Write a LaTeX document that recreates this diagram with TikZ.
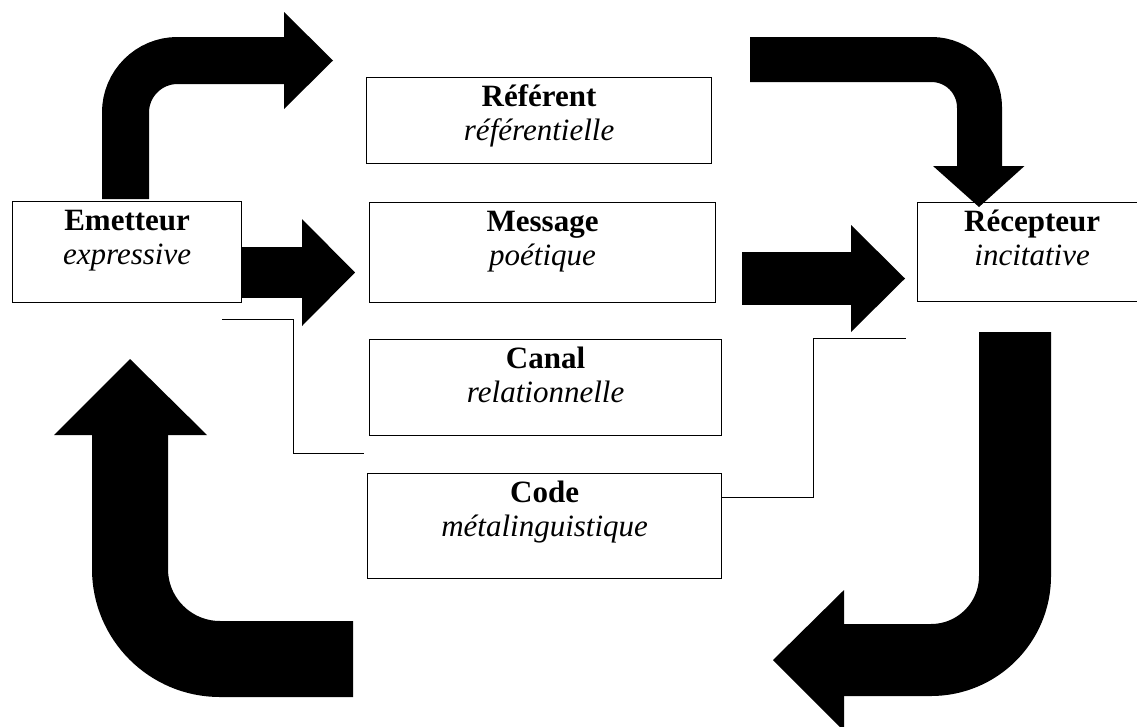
\documentclass[tikz,border=0pt]{standalone}
\usepackage{fontspec}
\setmainfont{Liberation Serif}
\begin{document}
\begin{tikzpicture}[x=1pt,y=-1pt,
  box/.style={draw, line width=1.2pt, fill=white, inner sep=0pt, anchor=north west},
  ttl/.style={font=\fontsize{31}{34}\selectfont\bfseries, anchor=base, inner sep=0pt},
  sub/.style={font=\fontsize{31}{34}\selectfont\itshape, anchor=base, inner sep=0pt},
  conn/.style={draw, line width=0.9pt},
  bigshaft/.style={draw=black, line cap=butt},
  bighead/.style={fill=black}
]
\useasboundingbox (0,0) rectangle (1137,726);
\clip (0,0) rectangle (1137,726);
\fill[white] (0,0) rectangle (1137,726);

% boxes
\node[box, minimum width=229pt, minimum height=101pt] (em) at (12,201) {};
\node[box, minimum width=345pt, minimum height=86pt] (ref) at (366,77) {};
\node[box, minimum width=346pt, minimum height=100pt] (msg) at (369,202) {};
\node[box, minimum width=352pt, minimum height=96pt] (can) at (369,339) {};
\node[box, minimum width=354pt, minimum height=105pt] (cod) at (367,473) {};
\node[box, minimum width=229pt, minimum height=99pt] (rec) at (917,202) {};

% texts
\foreach \b/\t/\s in {em/Emetteur/expressive, ref/Référent/référentielle, msg/Message/poétique, can/Canal/relationnelle, cod/Code/métalinguistique, rec/Récepteur/incitative}{
  \node[ttl] (\b T) at ([yshift=-29.5pt]\b.north) {\t};
  \node[sub] (\b S) at ([yshift=-63.5pt]\b.north) {\s};
}

% thin connectors
\coordinate (l1a) at (222,319);
\coordinate (l1b) at (293,319);
\coordinate (l1c) at (293,453);
\coordinate (l1d) at (364,453);
\draw[conn] (l1a) -- (l1b) -- (l1c) -- (l1d);
\coordinate (l2a) at (721,497);
\coordinate (l2b) at (813,497);
\coordinate (l2c) at (813,338);
\coordinate (l2d) at (906,338);
\draw[conn] (cod.east |- l2a) -- (l2b) -- (l2c) -- (l2d);

% big arrow: Emetteur up and right
\coordinate (a1) at (125.5,199);
\coordinate (a2) at (125.5,60.5);
\coordinate (a3) at (285,60.5);
\draw[bigshaft, line width=47pt, rounded corners=52pt] (a1) -- (a2) -- (a3);
\fill[bighead] (284,12) -- (333,60.5) -- (284,109) -- cycle;

% big arrow: Emetteur -> Message
\coordinate (b1) at (em.east |- 0,272.5);
\coordinate (b2) at (303,272.5);
\draw[bigshaft, line width=51pt] (b1) -- (b2);
\fill[bighead] (302,219) -- (355,272.5) -- (302,326) -- cycle;

% big arrow: Message -> Recepteur
\coordinate (c1) at (742,278.5);
\coordinate (c2) at (852,278.5);
\draw[bigshaft, line width=53pt] (c1) -- (c2);
\fill[bighead] (851,225) -- (905,278.5) -- (851,332) -- cycle;

% big arrow: top right, down to Recepteur
\coordinate (d1) at (750,59.5);
\coordinate (d2) at (979.5,59.5);
\coordinate (d3) at (979.5,167);
\draw[bigshaft, line width=45pt, rounded corners=48pt] (d1) -- (d2) -- (d3);
\fill[bighead] (933,166) -- (1024.5,166) -- (979,207) -- cycle;

% big arrow: bottom right, down and left
\coordinate (e1) at (1015,332);
\coordinate (e2) at (1015,660);
\coordinate (e3) at (843,660);
\draw[bigshaft, line width=72pt, rounded corners=84pt] (e1) -- (e2) -- (e3);
\fill[bighead] (844,590) -- (773,660) -- (844,731) -- cycle;

% big arrow: bottom left, left and up
\coordinate (f1) at (353,659);
\coordinate (f2) at (130,659);
\coordinate (f3) at (130,434);
\draw[bigshaft, line width=76pt, rounded corners=90pt] (f1) -- (f2) -- (f3);
\fill[bighead] (54,435) -- (130,359) -- (207,435) -- cycle;
\end{tikzpicture}
\end{document}
